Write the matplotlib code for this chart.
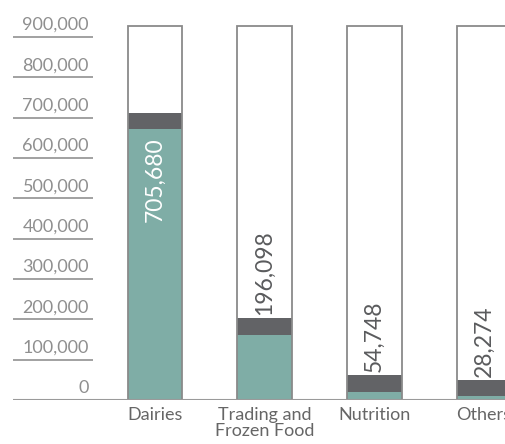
import matplotlib.pyplot as plt
import numpy as np

categories = ["Dairies", "Trading and\nFrozen Food", "Nutrition", "Others"]
values = [705680, 196098, 54748, 28274]
tick_values = [0, 100000, 200000, 300000, 400000, 500000, 600000, 700000, 800000, 900000]

teal = "#7fada6"
cap_color = "#626366"
edge = "#8a8a8a"
text_gray = "#8f8f8f"
font = "Lato"

W, H = 505, 444
fig = plt.figure(figsize=(W / 100, H / 100), dpi=100)

# px per unit on y, and per category on x
y_scale = 363 / 900000
x_step = 109.67
x0_px = 155
left_px, base_px = 13, 400
top_val = 950000
ax = fig.add_axes([left_px / W, (H - base_px) / H,
                   (W - left_px) / W, top_val * y_scale / H])
x_lo = (left_px - x0_px) / x_step
ax.set_xlim(x_lo, (W - x0_px) / x_step)
ax.set_ylim(0, top_val)
ax.axis("off")

x = np.arange(len(categories))
bar_w = 0.5
frame_top = 928000
cap_h = 40000

# white background column for every bar
ax.bar(x, frame_top, width=bar_w, color="white", edgecolor="none", zorder=1)

cap_top = np.maximum(np.array(values) + 6000, 50000)
fill_top = cap_top - cap_h
ax.bar(x, fill_top, width=bar_w, color=teal, edgecolor="none", zorder=2)
ax.bar(x, cap_h, bottom=fill_top, width=bar_w, color=cap_color, edgecolor="none", zorder=2)
ax.bar(x, frame_top, width=bar_w, fill=False, edgecolor=edge, linewidth=1.3, zorder=3)

px = 1 / y_scale  # one pixel in data units
for xi, v, ft, ct in zip(x, values, fill_top, cap_top):
    label = f"{v:,}"
    if ft > 300000:
        ax.text(xi, ft - 8 * px, label, rotation=90, ha="center", va="top",
                color="white", fontsize=16.5, family=font, zorder=4)
    else:
        ax.text(xi, ct + 3 * px, label, rotation=90, ha="center", va="bottom",
                color="#5a5b5d", fontsize=16.5, family=font, zorder=4)

# y labels with short underlines
label_x = (89 - x0_px) / x_step
line_end = (93 - x0_px) / x_step
for t in tick_values:
    ax.text(label_x, t + 4 * px, f"{t:,}", ha="right", va="bottom",
            color=text_gray, fontsize=13, family=font)
    if t > 0:
        ax.plot([x_lo, line_end], [t, t], color="#9a9a9a", linewidth=1.3,
                solid_capstyle="butt")

# baseline
ax.plot([x_lo, 10], [0, 0], color="#9a9a9a", linewidth=1.5, clip_on=True, zorder=5)

# category labels
for xi, c in zip(x, categories):
    ax.text(xi, -7 * px, c, ha="center", va="top", color="#666666",
            fontsize=13, family=font, linespacing=1.0, clip_on=False)

fig.savefig("out.png", dpi=100)
